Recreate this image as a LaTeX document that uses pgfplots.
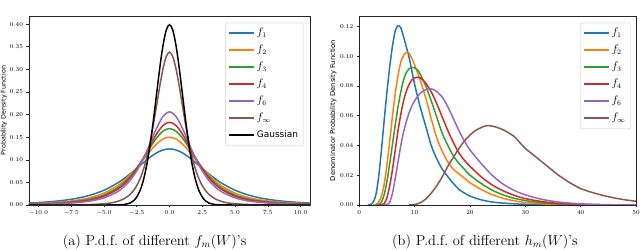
\documentclass[border=0pt]{standalone}
\usepackage{fontspec}
\usepackage{pgfplots}
\pgfplotsset{compat=1.18}
\newfontfamily\dejavu{DejaVu Sans}
\definecolor{tblue}{HTML}{1F77B4}
\definecolor{torange}{HTML}{FF7F0E}
\definecolor{tgreen}{HTML}{2CA02C}
\definecolor{tred}{HTML}{D62728}
\definecolor{tpurple}{HTML}{9467BD}
\definecolor{tbrown}{HTML}{8C564B}
\begin{document}
\begin{tikzpicture}
\path[use as bounding box] (0,0) rectangle (640bp,250bp);
\pgfplotsset{
  myax/.style={
    scale only axis, height=189bp,
    axis line style={black!85, line width=0.6bp},
    tick align=outside, xtick pos=left, ytick pos=left,
    major tick length=2.5bp,
    every tick/.style={black!85, line width=0.5bp},
    tick label style={font=\fontsize{6}{7}\selectfont},
    scaled ticks=false,
    ylabel style={font=\dejavu\fontsize{6.4}{7}\selectfont, anchor=center},
    every axis plot/.append style={line width=1.5pt, smooth},
    legend image code/.code={\path[#1, draw opacity=1, line width=1.6pt, draw] (0bp,0.25bp) -- (25bp,0.25bp);},
    legend cell align=left,
    legend style={
      anchor=north east,
      draw=black!20, rounded corners=2bp, fill=white, fill opacity=0.8, text opacity=1,
      font=\fontsize{10.5}{12}\selectfont,
      inner xsep=3bp, inner ysep=2bp,
      row sep=0bp,
      nodes={inner sep=2bp, text height=8.5bp, text depth=4.5bp},
      /tikz/every even column/.append style={column sep=6bp}
    },
  }
}
\begin{axis}[myax,
  at={(29bp,45bp)}, anchor=south west, width=281bp,
  xmin=-10.72, xmax=10.72, ymin=0, ymax=0.418,
  xtick={-10,-7.5,-5,-2.5,0,2.5,5,7.5,10},
  ytick={0,0.05,0.1,0.15,0.2,0.25,0.3,0.35,0.4},
  xticklabel style={/pgf/number format/.cd, fixed, fixed zerofill, precision=1},
  yticklabel style={/pgf/number format/.cd, fixed, fixed zerofill, precision=2},
  ylabel={Probability Density Function},
  ylabel style={at={(axis description cs:-0.089,0.5)}},
  legend style={at={(0.976,0.9646)}},
]
\addplot[tblue] coordinates {(-11,0.00397) (-10,0.00540) (-9,0.00748) (-8,0.01056) (-7,0.01518) (-6,0.02217) (-5,0.03268) (-4,0.04803) (-3.5,0.05781) (-3,0.06893) (-2.5,0.08104) (-2,0.09349) (-1.5,0.10527) (-1,0.11510) (-0.5,0.12168) (0,0.124) (0.5,0.12168) (1,0.11510) (1.5,0.10527) (2,0.09349) (2.5,0.08104) (3,0.06893) (3.5,0.05781) (4,0.04803) (5,0.03268) (6,0.02217) (7,0.01518) (8,0.01056) (9,0.00748) (10,0.00540) (11,0.00397)};
\addlegendentry{$f_1$}
\addplot[torange] coordinates {(-11,0.00252) (-10,0.00350) (-9,0.00497) (-8,0.00724) (-7,0.01085) (-6,0.01669) (-5,0.02632) (-4,0.04209) (-3.5,0.05316) (-3,0.06672) (-2.5,0.08270) (-2,0.10046) (-1.5,0.11855) (-1,0.13464) (-0.5,0.14592) (0,0.150) (0.5,0.14592) (1,0.13464) (1.5,0.11855) (2,0.10046) (2.5,0.08270) (3,0.06672) (3.5,0.05316) (4,0.04209) (5,0.02632) (6,0.01669) (7,0.01085) (8,0.00724) (9,0.00497) (10,0.00350) (11,0.00252)};
\addlegendentry{$f_2$}
\addplot[tgreen] coordinates {(-11,0.00186) (-10,0.00261) (-9,0.00376) (-8,0.00557) (-7,0.00852) (-6,0.01351) (-5,0.02216) (-4,0.03734) (-3.5,0.04868) (-3,0.06328) (-2.5,0.08145) (-2,0.10285) (-1.5,0.12591) (-1,0.14748) (-0.5,0.16320) (0,0.169) (0.5,0.16320) (1,0.14748) (1.5,0.12591) (2,0.10285) (2.5,0.08145) (3,0.06328) (3.5,0.04868) (4,0.03734) (5,0.02216) (6,0.01351) (7,0.00852) (8,0.00557) (9,0.00376) (10,0.00261) (11,0.00186)};
\addlegendentry{$f_3$}
\addplot[tred] coordinates {(-11,0.00151) (-10,0.00214) (-9,0.00310) (-8,0.00463) (-7,0.00719) (-6,0.01159) (-5,0.01949) (-4,0.03396) (-3.5,0.04522) (-3,0.06022) (-2.5,0.07961) (-2,0.10340) (-1.5,0.13014) (-1,0.15615) (-0.5,0.17567) (0,0.183) (0.5,0.17567) (1,0.15615) (1.5,0.13014) (2,0.10340) (2.5,0.07961) (3,0.06022) (3.5,0.04522) (4,0.03396) (5,0.01949) (6,0.01159) (7,0.00719) (8,0.00463) (9,0.00310) (10,0.00214) (11,0.00151)};
\addlegendentry{$f_4$}
\addplot[tpurple] coordinates {(-11,0.00110) (-10,0.00156) (-9,0.00229) (-8,0.00347) (-7,0.00548) (-6,0.00905) (-5,0.01574) (-4,0.02877) (-3.5,0.03953) (-3,0.05459) (-2.5,0.07525) (-2,0.10232) (-1.5,0.13492) (-1,0.16879) (-0.5,0.19562) (0,0.206) (0.5,0.19562) (1,0.16879) (1.5,0.13492) (2,0.10232) (2.5,0.07525) (3,0.05459) (3.5,0.03953) (4,0.02877) (5,0.01574) (6,0.00905) (7,0.00548) (8,0.00347) (9,0.00229) (10,0.00156) (11,0.00110)};
\addlegendentry{$f_6$}
\addplot[tbrown] coordinates {(-11,0.0001) (-8,0.0002) (-6,0.0011) (-5,0.0028) (-4.5,0.0045) (-4,0.0076) (-3.5,0.0133) (-3,0.0236) (-2.75,0.0318) (-2.5,0.0428) (-2.25,0.0577) (-2,0.0774) (-1.75,0.1031) (-1.5,0.1353) (-1.25,0.1740) (-1,0.2173) (-0.75,0.2615) (-0.5,0.3008) (-0.25,0.3282) (0,0.338) (0.25,0.3282) (0.5,0.3008) (0.75,0.2615) (1,0.2173) (1.25,0.1740) (1.5,0.1353) (1.75,0.1031) (2,0.0774) (2.25,0.0577) (2.5,0.0428) (2.75,0.0318) (3,0.0236) (3.5,0.0133) (4,0.0076) (4.5,0.0045) (5,0.0028) (6,0.0011) (8,0.0002) (11,0.0001)};
\addlegendentry{$f_\infty$}
\addplot[black] coordinates {(-11,0) (-5,0) (-4,0.00013) (-3.5,0.00087) (-3,0.00443) (-2.75,0.00909) (-2.5,0.01753) (-2.25,0.03174) (-2,0.05399) (-1.75,0.08628) (-1.5,0.12952) (-1.25,0.18265) (-1,0.24197) (-0.75,0.30114) (-0.5,0.35207) (-0.25,0.38667) (0,0.39894) (0.25,0.38667) (0.5,0.35207) (0.75,0.30114) (1,0.24197) (1.25,0.18265) (1.5,0.12952) (1.75,0.08628) (2,0.05399) (2.25,0.03174) (2.5,0.01753) (2.75,0.00909) (3,0.00443) (3.5,0.00087) (4,0.00013) (5,0) (11,0)};
\addlegendentry{{\dejavu\fontsize{9}{10}\selectfont Gaussian}}
\end{axis}

\begin{axis}[myax,
  at={(359.3bp,45bp)}, anchor=south west, width=276.7bp,
  xmin=0, xmax=50, ymin=0, ymax=0.127,
  xtick={0,10,20,30,40,50},
  ytick={0,0.02,0.04,0.06,0.08,0.1,0.12},
  yticklabel style={/pgf/number format/.cd, fixed, fixed zerofill, precision=2},
  ylabel={Denominator Probability Density Function},
  ylabel style={at={(axis description cs:-0.094,0.5)}, font=\dejavu\fontsize{6.8}{7.5}\selectfont},
  legend style={at={(0.981,0.9646)}},
]
\addplot[tblue] coordinates {(1.5,0) (2,0.0002) (2.5,0.002) (3,0.007) (3.5,0.019) (4,0.037) (4.5,0.057) (5,0.076) (5.5,0.093) (6,0.107) (6.5,0.117) (7,0.1205) (7.5,0.119) (8,0.113) (9,0.099) (10,0.081) (11,0.066) (12,0.053) (13,0.040) (14,0.031) (15,0.024) (16,0.019) (17,0.0145) (18,0.0105) (19,0.008) (20,0.006) (22,0.0035) (24,0.002) (26,0.0013) (28,0.0008) (30,0.0005) (35,0.0001) (40,0) (50,0)};
\addlegendentry{$f_1$}
\addplot[torange] coordinates {(2.5,0) (3,0.0003) (3.5,0.002) (4,0.006) (4.5,0.014) (5,0.027) (5.5,0.043) (6,0.060) (6.5,0.075) (7,0.087) (7.5,0.096) (8,0.1005) (8.5,0.1025) (9,0.102) (9.5,0.0985) (10,0.094) (11,0.084) (12,0.072) (13,0.058) (14,0.045) (15,0.036) (16,0.029) (17,0.024) (18,0.021) (19,0.018) (20,0.015) (22,0.0105) (24,0.007) (26,0.0045) (28,0.0028) (30,0.0017) (33,0.0008) (36,0.0003) (40,0.0001) (50,0)};
\addlegendentry{$f_2$}
\addplot[tgreen] coordinates {(3,0) (3.5,0.0003) (4,0.002) (4.5,0.007) (5,0.016) (5.5,0.028) (6,0.041) (6.5,0.054) (7,0.066) (7.5,0.076) (8,0.084) (8.5,0.089) (9,0.0915) (9.5,0.0925) (10,0.0922) (10.5,0.0908) (11,0.088) (12,0.080) (13,0.070) (14,0.059) (15,0.048) (16,0.040) (17,0.033) (18,0.028) (19,0.024) (20,0.020) (22,0.0145) (24,0.010) (26,0.0068) (28,0.0045) (30,0.003) (33,0.0015) (36,0.0007) (40,0.0002) (45,0) (50,0)};
\addlegendentry{$f_3$}
\addplot[tred] coordinates {(3.5,0) (4,0.0002) (4.5,0.001) (5,0.005) (5.5,0.013) (6,0.024) (6.5,0.037) (7,0.050) (7.5,0.061) (8,0.070) (8.5,0.0765) (9,0.081) (9.5,0.084) (10,0.0855) (10.5,0.0858) (11,0.0855) (11.5,0.084) (12,0.082) (13,0.076) (14,0.068) (15,0.059) (16,0.050) (17,0.042) (18,0.035) (19,0.030) (20,0.026) (22,0.019) (24,0.0135) (26,0.0095) (28,0.0065) (30,0.0043) (33,0.0023) (36,0.0011) (40,0.0004) (45,0.0001) (50,0)};
\addlegendentry{$f_4$}
\addplot[tpurple] coordinates {(4.5,0) (5,0.0003) (5.5,0.002) (6,0.008) (6.5,0.018) (7,0.029) (7.5,0.040) (8,0.049) (8.5,0.056) (9,0.062) (9.5,0.0665) (10,0.070) (10.5,0.0728) (11,0.075) (11.5,0.0765) (12,0.0775) (12.5,0.078) (13,0.078) (13.5,0.0775) (14,0.0762) (15,0.0725) (16,0.066) (17,0.058) (18,0.050) (19,0.043) (20,0.037) (22,0.028) (24,0.020) (26,0.014) (28,0.0098) (30,0.0068) (33,0.0038) (36,0.002) (40,0.0008) (45,0.0002) (50,0)};
\addlegendentry{$f_6$}
\addplot[tbrown] coordinates {(9,0) (10,0.0003) (11,0.0015) (12,0.004) (13,0.008) (14,0.013) (15,0.019) (16,0.026) (17,0.032) (18,0.038) (19,0.043) (20,0.047) (21,0.050) (22,0.052) (23,0.0533) (24,0.053) (25,0.052) (26,0.0505) (27,0.0485) (28,0.046) (29,0.042) (30,0.038) (31,0.035) (32,0.032) (33,0.029) (34,0.026) (35,0.023) (36,0.020) (37,0.0175) (38,0.015) (39,0.013) (40,0.011) (42,0.0085) (44,0.0065) (46,0.0048) (48,0.0035) (50,0.0025)};
\addlegendentry{$f_\infty$}
\end{axis}

\node[anchor=base, font=\fontsize{14.5}{17}\selectfont] at (154.6bp,4.5bp) {(a) P.d.f.\ of different $f_m(W)$'s};
\node[anchor=base, font=\fontsize{14.5}{17}\selectfont] at (485bp,4.5bp) {(b) P.d.f.\ of different $h_m(W)$'s};
\end{tikzpicture}
\end{document}
